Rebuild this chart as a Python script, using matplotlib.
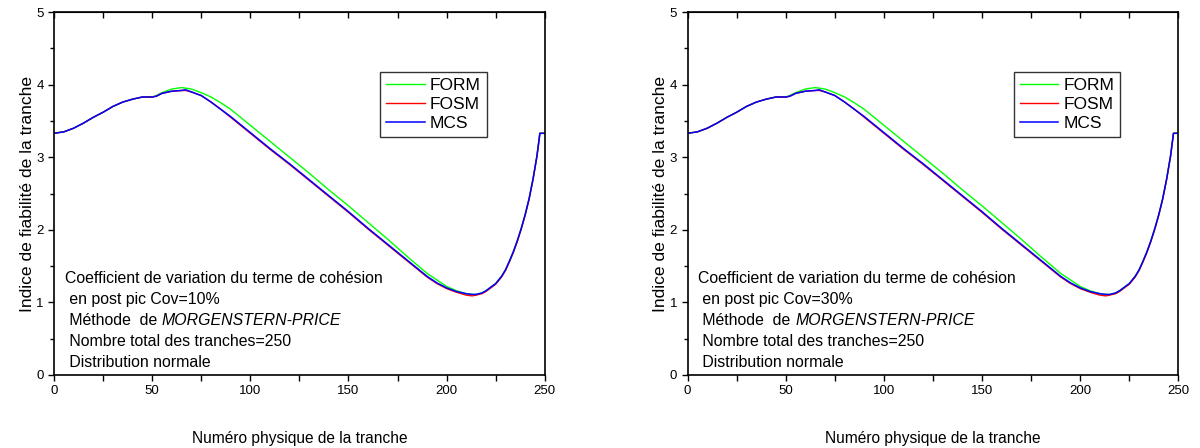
import matplotlib.pyplot as plt
from matplotlib.ticker import MultipleLocator

plt.rcParams['font.family'] = ['Liberation Sans', 'DejaVu Sans']

# ---------------------------------
# Data: reliability index per slice
# ---------------------------------
x_mcs = [0, 5, 10, 15, 20, 25, 30, 35, 40, 45, 50, 52, 55, 60, 65, 67, 70, 75,
         80, 85, 90, 95, 100, 110, 120, 130, 140, 150, 160, 170, 180, 185, 190,
         195, 200, 205, 210, 213, 215, 218, 220, 222, 225, 228, 230, 232, 234,
         236, 238, 240, 242, 244, 246, 247.5, 250]
beta_mcs = [3.33, 3.35, 3.40, 3.47, 3.55, 3.62, 3.70, 3.76, 3.80, 3.83, 3.83,
            3.84, 3.88, 3.91, 3.92, 3.93, 3.90, 3.85, 3.76, 3.66, 3.56, 3.45,
            3.34, 3.12, 2.91, 2.69, 2.47, 2.25, 2.02, 1.80, 1.58, 1.47, 1.36,
            1.27, 1.20, 1.15, 1.12, 1.11, 1.11, 1.13, 1.16, 1.20, 1.26, 1.36,
            1.45, 1.57, 1.70, 1.85, 2.02, 2.21, 2.43, 2.70, 3.02, 3.33, 3.33]
beta_fosm = [3.33, 3.35, 3.40, 3.47, 3.55, 3.62, 3.70, 3.76, 3.80, 3.83, 3.83,
             3.84, 3.88, 3.91, 3.92, 3.92, 3.90, 3.85, 3.76, 3.66, 3.55, 3.44,
             3.33, 3.11, 2.90, 2.68, 2.46, 2.24, 2.01, 1.79, 1.57, 1.46, 1.35,
             1.26, 1.19, 1.14, 1.10, 1.09, 1.10, 1.12, 1.15, 1.19, 1.25, 1.35,
             1.44, 1.56, 1.69, 1.84, 2.01, 2.20, 2.42, 2.69, 3.01, 3.33, 3.33]

x_form = [0, 5, 10, 15, 20, 25, 30, 35, 40, 45, 50, 52, 55, 60, 65, 70, 75, 80,
          85, 90, 95, 100, 110, 120, 130, 140, 150, 160, 170, 180, 190, 200,
          205, 210, 213, 215, 218, 220, 222, 225, 228, 230, 232, 234, 236, 238,
          240, 242, 244, 246, 247.5, 250]
beta_form = [3.33, 3.35, 3.40, 3.47, 3.55, 3.62, 3.70, 3.76, 3.80, 3.83, 3.83,
             3.85, 3.89, 3.94, 3.96, 3.94, 3.89, 3.83, 3.75, 3.66, 3.55, 3.44,
             3.22, 3.00, 2.78, 2.55, 2.33, 2.10, 1.87, 1.63, 1.40, 1.22, 1.16,
             1.12, 1.11, 1.11, 1.13, 1.16, 1.20, 1.26, 1.36, 1.45, 1.57, 1.70,
             1.85, 2.02, 2.21, 2.43, 2.70, 3.02, 3.33, 3.33]

cov_values = ["10%", "30%"]
info_lines = [
    "Coefficient de variation du terme de cohésion",
    " en post pic Cov={cov}",
    " Méthode  de ",
    " Nombre total des tranches=250",
    " Distribution normale",
]

fig = plt.figure(figsize=(12, 4.48), dpi=100)
panels = [fig.add_axes([0.045, 0.163, 0.409, 0.810]),
          fig.add_axes([0.573, 0.163, 0.409, 0.810])]

for ax, cov in zip(panels, cov_values):
    ax.plot(x_form, beta_form, color="#00ff00", lw=1.0, label="FORM")
    ax.plot(x_mcs, beta_fosm, color="#ff0000", lw=1.0, label="FOSM")
    ax.plot(x_mcs, beta_mcs, color="#0000ff", lw=1.1, label="MCS")

    ax.set_xlim(0, 250)
    ax.set_ylim(0, 5)
    ax.xaxis.set_major_locator(MultipleLocator(50))
    ax.xaxis.set_minor_locator(MultipleLocator(25))
    ax.yaxis.set_major_locator(MultipleLocator(1))
    ax.yaxis.set_minor_locator(MultipleLocator(0.5))
    ax.tick_params(axis="x", which="both", direction="out", length=4,
                   width=1, top=False, labelsize=9.5)
    ax.tick_params(axis="y", which="major", direction="out", length=4,
                   width=1, right=False, labelsize=9.5)
    ax.tick_params(axis="y", which="minor", direction="out", length=3,
                   width=1, right=False)
    # inward ticks along the top frame
    top = ax.secondary_xaxis("top")
    top.xaxis.set_major_locator(MultipleLocator(50))
    top.xaxis.set_minor_locator(MultipleLocator(25))
    top.tick_params(which="both", direction="in", length=4, width=1,
                    labeltop=False)
    for spine in ax.spines.values():
        spine.set_linewidth(1.2)

    ax.set_xlabel("Numéro physique de la tranche", fontsize=11.2, labelpad=24)
    ax.set_ylabel("Indice de fiabilité de la tranche", fontsize=12.6, labelpad=1)

    leg = ax.legend(loc="upper left", bbox_to_anchor=(0.665, 0.835),
                    fontsize=12.5, frameon=True, fancybox=False,
                    edgecolor="black", handlelength=2.2, handletextpad=0.3,
                    borderpad=0.35, labelspacing=0.22, borderaxespad=0)
    leg.get_frame().set_linewidth(1.0)

    y0 = 0.266
    dy = 0.058
    for i, line in enumerate(info_lines):
        ty = y0 - i * dy
        if i == 2:
            t = ax.text(0.022, ty, line, transform=ax.transAxes, fontsize=11.4,
                        va="center", ha="left")
            ax.annotate("MORGENSTERN-PRICE", xycoords=t, xy=(1, 0),
                        va="bottom", ha="left", fontsize=11.4, style="italic")
        else:
            ax.text(0.022, ty, line.format(cov=cov), transform=ax.transAxes,
                    fontsize=11.4, va="center", ha="left")

fig.savefig("out.png", dpi=100)
